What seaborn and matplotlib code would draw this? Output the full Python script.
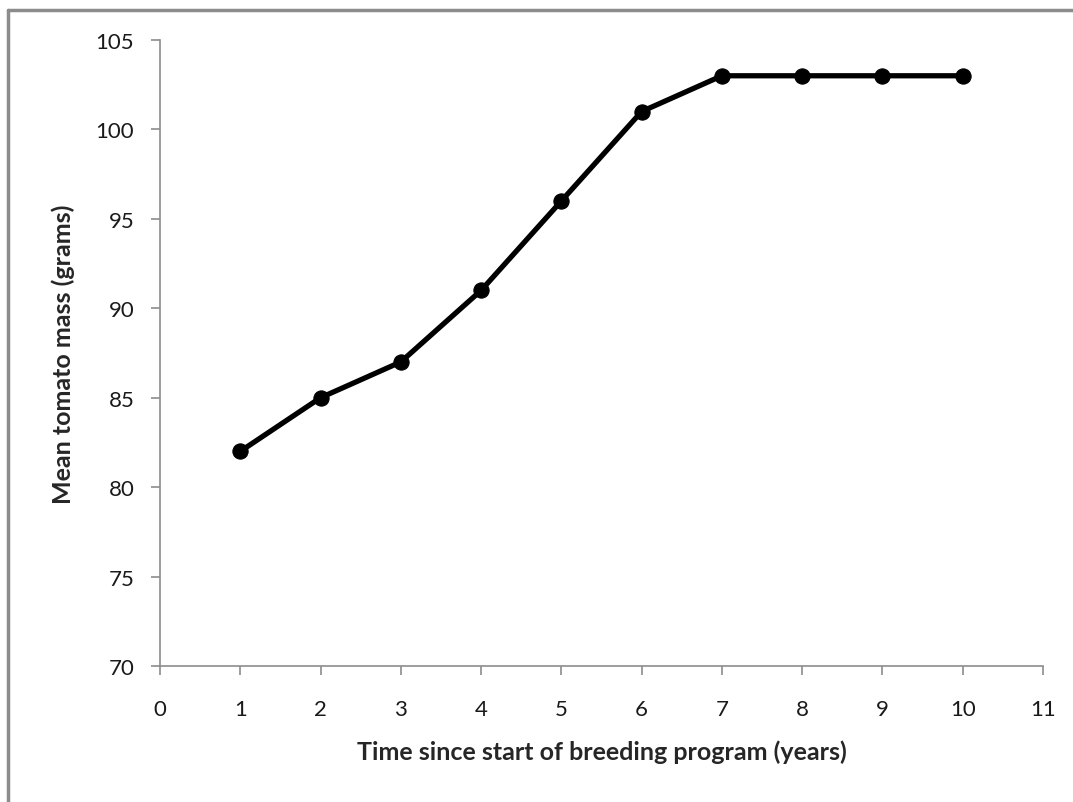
import matplotlib
matplotlib.use("Agg")
import matplotlib.pyplot as plt
import seaborn as sns
import pandas as pd
from matplotlib.lines import Line2D

# Data
years = [1, 2, 3, 4, 5, 6, 7, 8, 9, 10]
mass = [82, 85, 87, 91, 96, 101, 103, 103, 103, 103]
x_ticks = list(range(0, 12))
y_ticks = list(range(70, 106, 5))

df = pd.DataFrame({"year": years, "mass": mass})

sns.set_style("white")
plt.rcParams["font.family"] = ["Lato", "DejaVu Sans"]

fig = plt.figure(figsize=(10.73, 8.03), dpi=100)
ax = fig.add_axes([160 / 1073, 1 - 667 / 803, 883 / 1073, 626 / 803])

sns.lineplot(data=df, x="year", y="mass", ax=ax, color="black", linewidth=3.8,
             marker="o", markersize=11, markeredgecolor="black", clip_on=False)

ax.set_xlim(0, 11)
ax.set_ylim(70, 105)
ax.set_xticks(x_ticks)
ax.set_yticks(y_ticks)

for side in ["top", "right"]:
    ax.spines[side].set_visible(False)
for side in ["left", "bottom"]:
    ax.spines[side].set_color("#8c8c8c")
    ax.spines[side].set_linewidth(1.2)

ax.tick_params(axis="both", which="major", direction="out", length=6.5, width=1.2,
               color="#8c8c8c", labelsize=16, labelcolor="#1a1a1a")
ax.tick_params(axis="x", pad=17, bottom=True)
ax.tick_params(axis="y", pad=12, left=True)

ax.set_xlabel("Time since start of breeding program (years)", fontsize=18,
              fontweight="bold", labelpad=15)
ax.set_ylabel("Mean tomato mass (grams)", fontsize=18, fontweight="bold",
              labelpad=15)

# Gray frame around the chart (left and top edges visible)
fig.add_artist(Line2D([8 / 1073, 8 / 1073], [0, 1 - 11 / 803],
                      transform=fig.transFigure, color="#8c8c8c", linewidth=2.5))
fig.add_artist(Line2D([8 / 1073, 1], [1 - 11 / 803, 1 - 11 / 803],
                      transform=fig.transFigure, color="#8c8c8c", linewidth=2.5))

fig.savefig("out.png", dpi=100)
